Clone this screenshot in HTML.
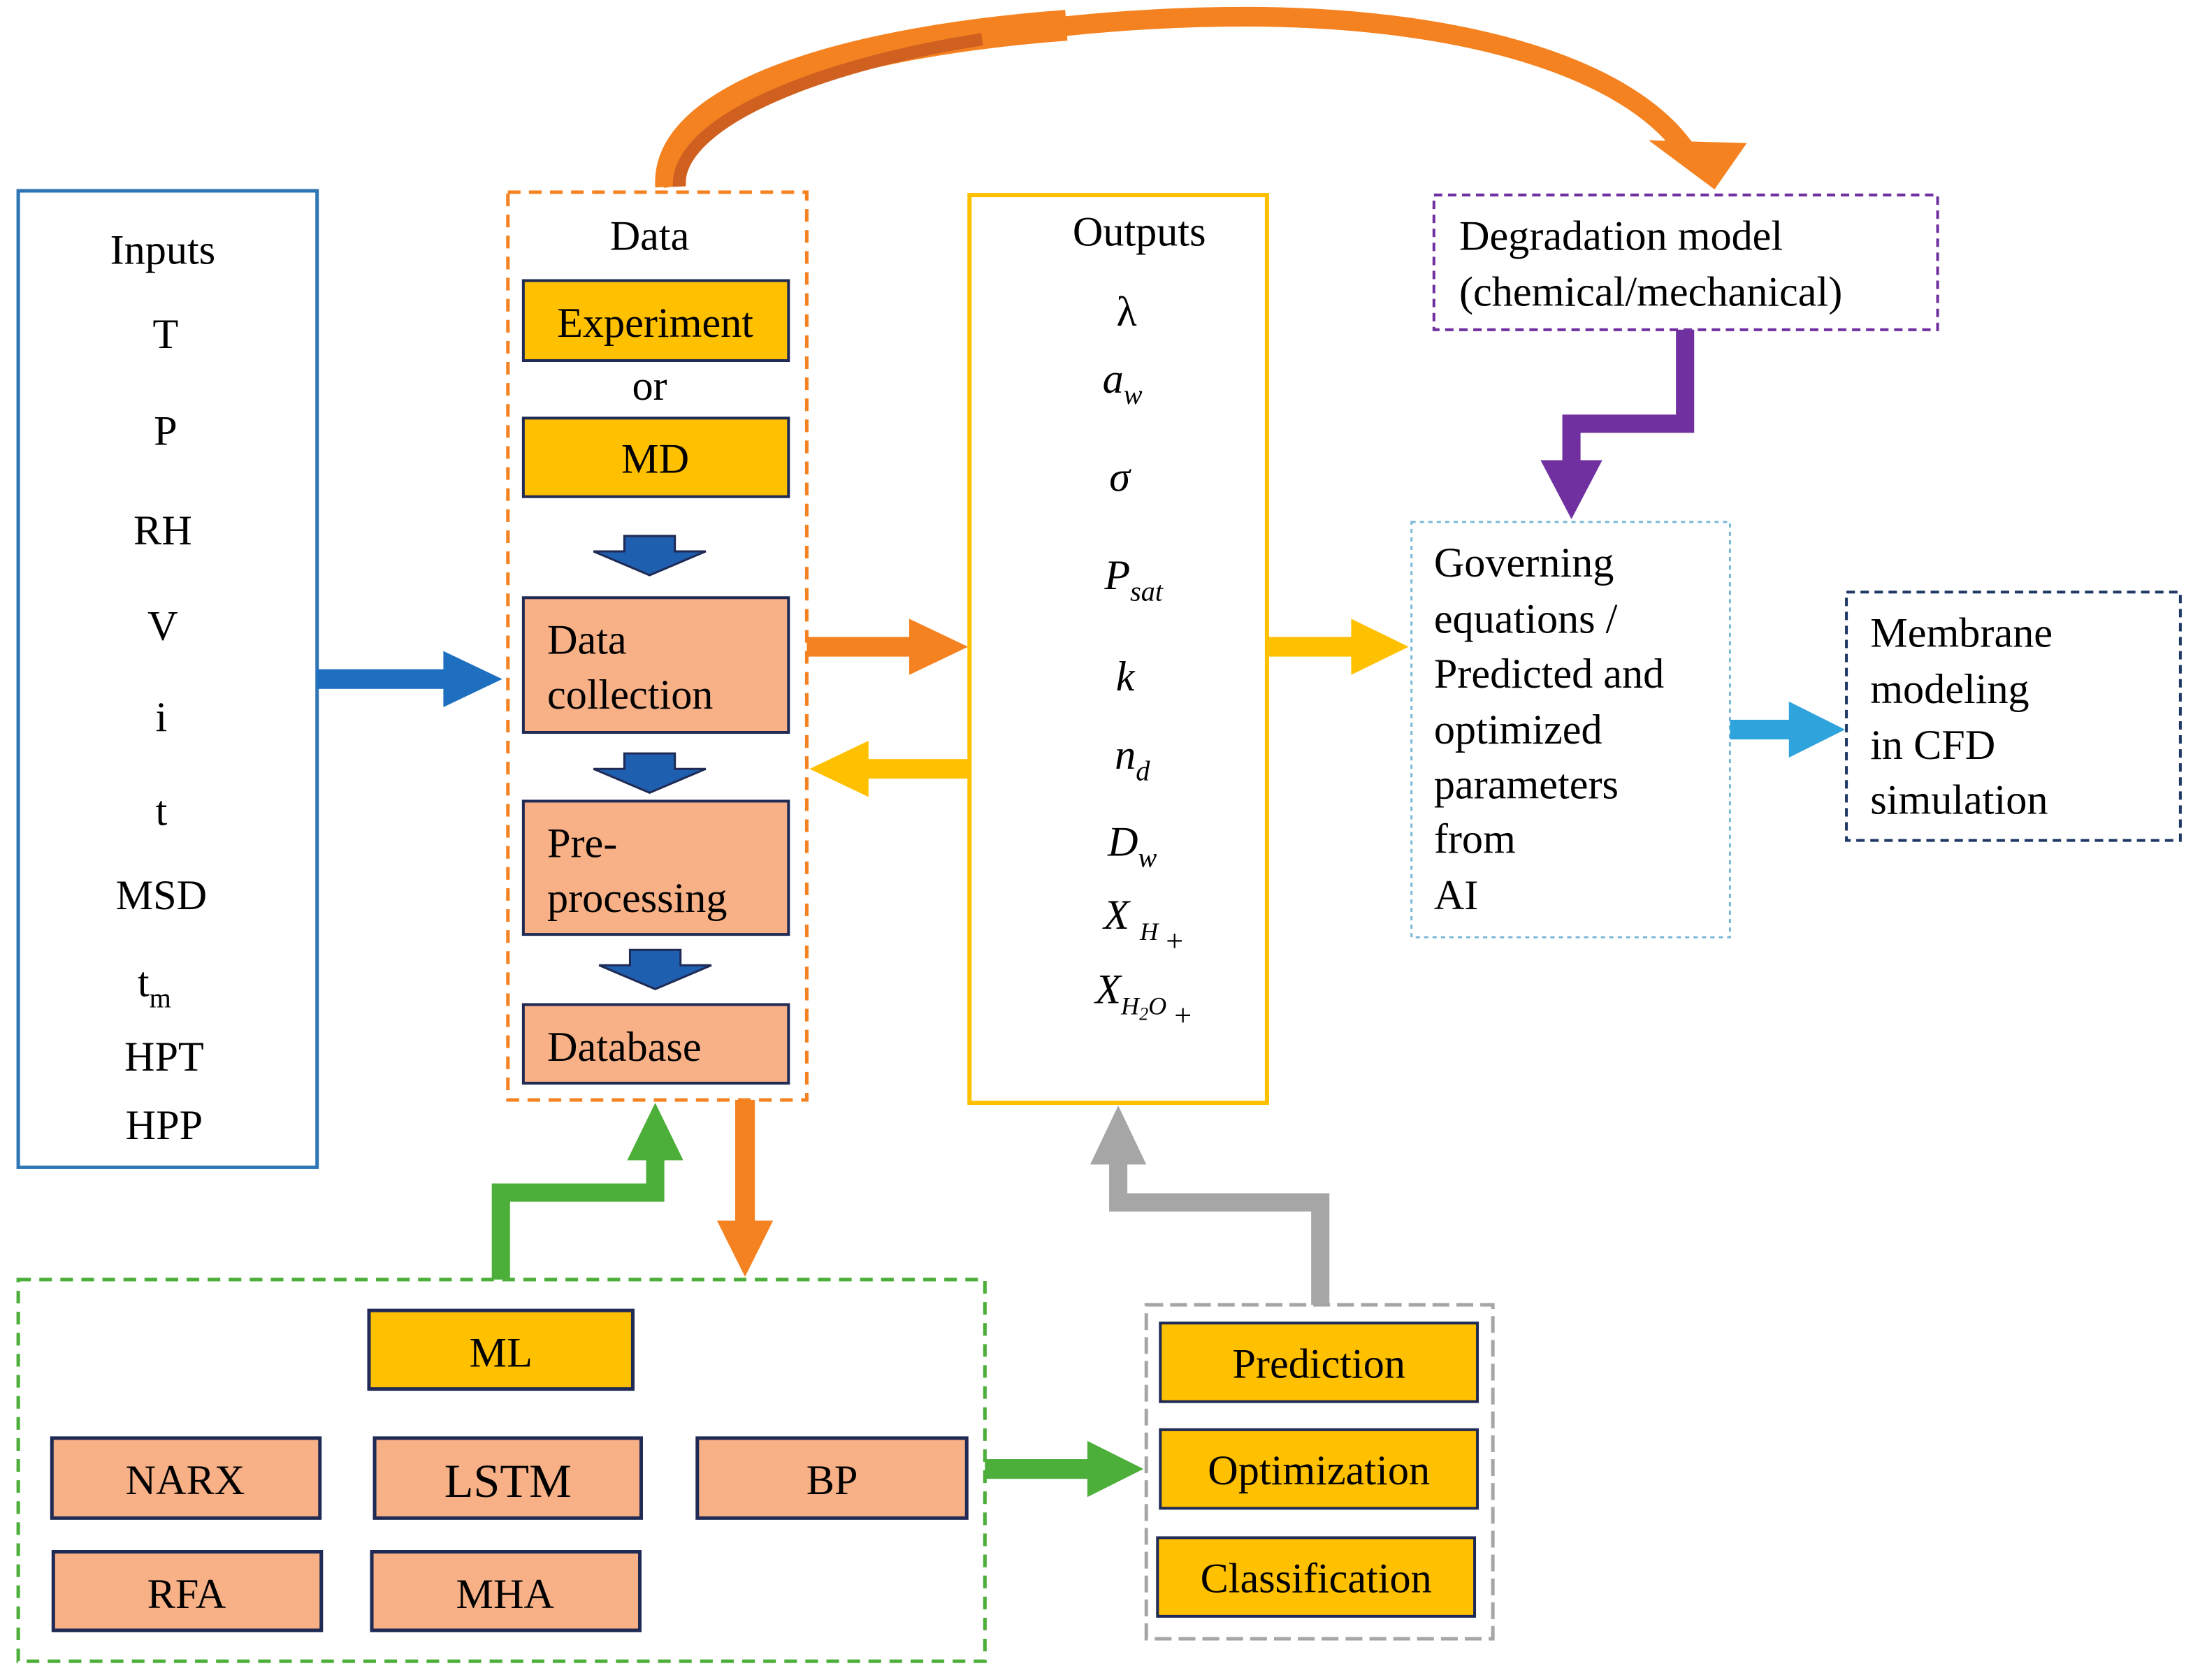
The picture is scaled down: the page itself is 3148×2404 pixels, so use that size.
<!DOCTYPE html>
<html><head><meta charset="utf-8"><style>
html,body{margin:0;padding:0;background:#fff;font-family:"Liberation Serif","DejaVu Serif",serif;}
svg{display:block;font-family:"Liberation Serif","DejaVu Serif",serif;}
svg text{font-family:"Liberation Serif","DejaVu Serif",serif !important;fill:#000;}
</style></head><body>
<svg width="3148" height="2404" viewBox="0 0 1568 1197.4" preserveAspectRatio="none" xmlns="http://www.w3.org/2000/svg" font-family="Liberation Serif, DejaVu Serif, serif">
<rect width="1568" height="1198" fill="#fff"/>
<!-- big orange arc -->
<path d="M480,133 C470,60 700,10 900,12 C1050,14 1160,50 1200,105" fill="none" stroke="#f58220" stroke-width="14"/>
<path d="M478,133 C474,70 600,30 760,18" fill="none" stroke="#f58220" stroke-width="22"/>
<path d="M484,133 C482,85 590,45 700,28" fill="none" stroke="#d06020" stroke-width="9"/>
<polygon points="1175,100 1245,102 1222,135" fill="#f58220"/>

<!-- Inputs -->
<rect x="13" y="136" width="213" height="696" fill="#fff" stroke="#2e75b6" stroke-width="2.5"/>
<g font-size="30" text-anchor="middle" font-family="Liberation Serif, serif">
<text x="116" y="188">Inputs</text>
<text x="118" y="248">T</text>
<text x="118" y="317">P</text>
<text x="116" y="388">RH</text>
<text x="116" y="456">V</text>
<text x="115" y="521">i</text>
<text x="115" y="588">t</text>
<text x="115" y="648">MSD</text>
<text x="110" y="710">t<tspan font-size="20" dy="8">m</tspan></text>
<text x="117" y="763">HPT</text>
<text x="117" y="812">HPP</text>
</g>

<!-- Data -->
<rect x="362" y="137" width="213" height="647" fill="none" stroke="#f58220" stroke-width="2.5" stroke-dasharray="9,6"/>
<g font-size="30" text-anchor="middle" font-family="Liberation Serif, serif">
<text x="463" y="178">Data</text>
<text x="463" y="285">or</text>
</g>
<g stroke="#1f2a55" stroke-width="2">
<rect x="373" y="200" width="189" height="57" fill="#ffc000"/>
<rect x="373" y="298" width="189" height="56" fill="#ffc000"/>
<rect x="373" y="426" width="189" height="96" fill="#f8b086"/>
<rect x="373" y="571" width="189" height="95" fill="#f8b086"/>
<rect x="373" y="716" width="189" height="56" fill="#f8b086"/>
</g>
<g font-size="30" font-family="Liberation Serif, serif">
<text x="467" y="240" text-anchor="middle">Experiment</text>
<text x="467" y="337" text-anchor="middle">MD</text>
<text x="390" y="466">Data</text>
<text x="390" y="505">collection</text>
<text x="390" y="611">Pre-</text>
<text x="390" y="650">processing</text>
<text x="390" y="756">Database</text>
</g>
<g fill="#1f5fb0" stroke="#1f2a55" stroke-width="1.5">
<polygon points="445,382 481,382 481,393 503,393 463,410 423,393 445,393"/>
<polygon points="445,537 481,537 481,548 503,548 463,565 423,548 445,548"/>
<polygon points="449,677 485,677 485,688 507,688 467,705 427,688 449,688"/>
</g>

<!-- Outputs -->
<rect x="691" y="139" width="212" height="647" fill="#fff" stroke="#ffc000" stroke-width="3"/>
<g font-size="30" font-style="italic" text-anchor="middle" font-family="Liberation Serif, serif">
<text x="812" y="175" font-style="normal">Outputs</text>
<text x="803" y="232" font-style="normal">λ</text>
<text x="800" y="280">a<tspan font-size="20" dy="8">w</tspan></text>
<text x="798" y="350">σ</text>
<text x="808" y="420">P<tspan font-size="20" dy="8">sat</tspan></text>
<text x="802" y="492">k</text>
<text x="807" y="548">n<tspan font-size="20" dy="8">d</tspan></text>
<text x="807" y="610">D<tspan font-size="20" dy="8">w</tspan></text>
<text x="815" y="662">X <tspan font-size="18" dy="8">H</tspan><tspan font-size="22" font-style="normal" dy="8"> +</tspan></text>
<text x="815" y="715">X<tspan font-size="18" dy="8">H</tspan><tspan font-size="13" dy="4">2</tspan><tspan font-size="18" dy="-4">O</tspan><tspan font-size="22" font-style="normal" dy="8"> +</tspan></text>
</g>

<!-- Degradation -->
<rect x="1022" y="139" width="359" height="96" fill="none" stroke="#7030a0" stroke-width="2" stroke-dasharray="6,4"/>
<g font-size="30" font-family="Liberation Serif, serif"><text x="1040" y="178">Degradation model</text><text x="1040" y="218">(chemical/mechanical)</text></g>

<!-- Governing -->
<rect x="1006" y="372" width="227" height="296" fill="none" stroke="#7ab8d8" stroke-width="1.5" stroke-dasharray="3,3"/>
<g font-size="30" font-family="Liberation Serif, serif">
<text x="1022" y="411">Governing</text><text x="1022" y="451">equations /</text><text x="1022" y="490">Predicted and</text>
<text x="1022" y="530">optimized</text><text x="1022" y="569">parameters</text><text x="1022" y="608">from</text><text x="1022" y="648">AI</text>
</g>

<!-- Membrane -->
<rect x="1316" y="422" width="238" height="177" fill="none" stroke="#1f3864" stroke-width="2" stroke-dasharray="6,4"/>
<g font-size="30" font-family="Liberation Serif, serif"><text x="1333" y="461">Membrane</text><text x="1333" y="501">modeling</text><text x="1333" y="541">in CFD</text><text x="1333" y="580">simulation</text></g>

<!-- ML -->
<rect x="13" y="912" width="689" height="272" fill="none" stroke="#4caf3a" stroke-width="2.5" stroke-dasharray="9,6"/>
<g stroke="#1f2a55" stroke-width="2.5">
<rect x="263" y="934" width="188" height="56" fill="#ffc000"/>
<rect x="37" y="1025" width="191" height="57" fill="#f8b086"/>
<rect x="267" y="1025" width="190" height="57" fill="#f8b086"/>
<rect x="497" y="1025" width="192" height="57" fill="#f8b086"/>
<rect x="38" y="1106" width="191" height="56" fill="#f8b086"/>
<rect x="265" y="1106" width="191" height="56" fill="#f8b086"/>
</g>
<g font-size="30" text-anchor="middle" font-family="Liberation Serif, serif">
<text x="357" y="974">ML</text>
<text x="132" y="1065">NARX</text>
<text x="362" y="1067" font-size="34">LSTM</text>
<text x="593" y="1065">BP</text>
<text x="133" y="1146">RFA</text>
<text x="360" y="1146">MHA</text>
</g>

<!-- Grey box -->
<rect x="817" y="930" width="247" height="238" fill="none" stroke="#a6a6a6" stroke-width="2.5" stroke-dasharray="12,5"/>
<g stroke="#1f2a55" stroke-width="2" fill="#ffc000">
<rect x="827" y="943" width="226" height="56"/>
<rect x="827" y="1019" width="226" height="56"/>
<rect x="825" y="1096" width="226" height="56"/>
</g>
<g font-size="30" text-anchor="middle" font-family="Liberation Serif, serif">
<text x="940" y="982">Prediction</text><text x="940" y="1058">Optimization</text><text x="938" y="1135">Classification</text>
</g>

<!-- arrows -->
<rect x="226" y="477" width="92" height="14" fill="#1f6fc0"/>
<polygon points="316,464 358,484 316,504" fill="#1f6fc0"/>
<rect x="575" y="454" width="75" height="14" fill="#f58220"/>
<polygon points="648,441 690,461 648,481" fill="#f58220"/>
<rect x="617" y="541" width="74" height="14" fill="#ffc000"/>
<polygon points="619,528 577,548 619,568" fill="#ffc000"/>
<rect x="903" y="454" width="62" height="14" fill="#ffc000"/>
<polygon points="963,441 1004,461 963,481" fill="#ffc000"/>
<rect x="1233" y="513" width="44" height="14" fill="#2ea3dc"/>
<polygon points="1275,500 1315,520 1275,540" fill="#2ea3dc"/>
<polyline points="1201,235 1201,302 1120,302 1120,330" fill="none" stroke="#7030a0" stroke-width="13"/>
<polygon points="1098,328 1142,328 1120,370" fill="#7030a0"/>
<rect x="524" y="784" width="14" height="88" fill="#f58220"/>
<polygon points="511,870 551,870 531,910" fill="#f58220"/>
<polyline points="357,912 357,850 467,850 467,825" fill="none" stroke="#4caf3a" stroke-width="13"/>
<polygon points="447,827 487,827 467,786" fill="#4caf3a"/>
<polyline points="941,930 941,857 797,857 797,828" fill="none" stroke="#a6a6a6" stroke-width="13"/>
<polygon points="777,830 817,830 797,788" fill="#a6a6a6"/>
<rect x="702" y="1040" width="75" height="14" fill="#4caf3a"/>
<polygon points="775,1027 815,1047 775,1067" fill="#4caf3a"/>
</svg>
</body></html>
